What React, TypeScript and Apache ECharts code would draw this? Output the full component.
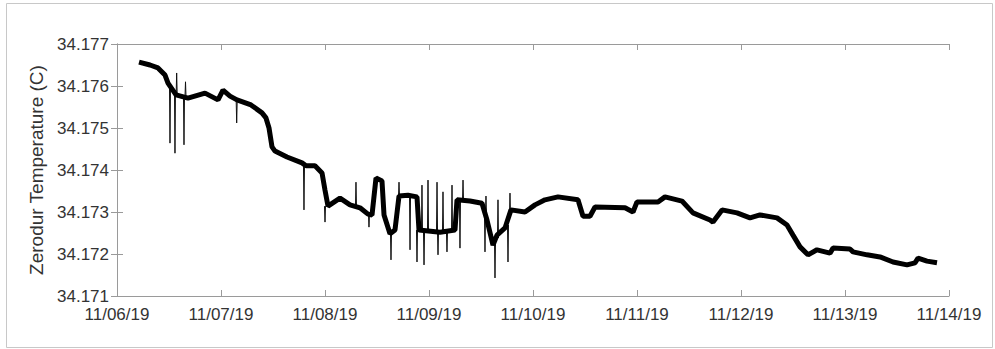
import React, { useEffect, useRef } from "react";
import * as echarts from "echarts";

// x in hours since 11/06/19 00:00
const xTickLabels = ["11/06/19", "11/07/19", "11/08/19", "11/09/19", "11/10/19", "11/11/19", "11/12/19", "11/13/19", "11/14/19"];
const yAxisTitle = "Zerodur Temperature (C)";

const trendHours = [
  5.08, 7.62, 9.46, 11.08, 11.77, 13.62, 16.38, 20.31, 23.31, 24.46, 26.08, 27.69, 30.92, 33.46, 34.38, 35.08,
  35.77, 36.46, 39.23, 42.69, 43.62, 45.69, 47.31, 48.0, 48.69, 51.46, 53.77, 56.08, 57.92, 58.85, 59.77, 61.15,
  61.62, 63.0, 64.15, 65.08, 67.15, 69.23, 69.69, 74.54, 78.0, 78.46, 81.46, 84.23, 85.38, 86.77, 87.69, 89.54,
  90.92, 94.15, 96.46, 98.77, 101.77, 106.38, 107.54, 109.15, 110.31, 117.23, 119.08, 120.0, 124.85, 126.46,
  130.38, 132.92, 136.85, 137.54, 139.62, 143.08, 146.08, 148.38, 152.31, 154.62, 156.0, 157.62, 159.46, 161.54,
  164.54, 165.23, 169.15, 169.85, 173.08, 176.08, 179.08, 182.31, 184.15, 184.85, 186.92, 189.23,
];
const trendValues = [
  34.17657, 34.1765, 34.17643, 34.17626, 34.17607, 34.17579, 34.17571, 34.17583, 34.17567, 34.1759, 34.17576,
  34.17567, 34.17555, 34.17536, 34.17524, 34.175, 34.17455, 34.17445, 34.17431, 34.17417, 34.1741, 34.1741,
  34.17393, 34.17352, 34.17314, 34.17333, 34.17317, 34.1731, 34.17295, 34.17293, 34.17381, 34.17374, 34.17293,
  34.17248, 34.17257, 34.17338, 34.1734, 34.17336, 34.17257, 34.17252, 34.17257, 34.17329, 34.17326, 34.17321,
  34.17281, 34.17221, 34.17245, 34.17262, 34.17305, 34.173, 34.17317, 34.17329, 34.17336, 34.17329, 34.1729,
  34.1729, 34.17312, 34.1731, 34.173, 34.17324, 34.17324, 34.17336, 34.17326, 34.17298, 34.17281, 34.17276,
  34.17305, 34.17298, 34.17286, 34.17293, 34.17286, 34.17269, 34.17245, 34.17217, 34.17198, 34.1721, 34.17202,
  34.17214, 34.17212, 34.17205, 34.17198, 34.17193, 34.17181, 34.17174, 34.17179, 34.1719, 34.17183, 34.17179,
];

const spikeHours = [
  12.23, 13.38, 13.77, 15.46, 15.81, 27.62, 43.15, 48.0, 55.15, 58.15, 63.23, 65.08, 67.62, 69.23, 70.38, 70.85,
  71.77, 73.85, 74.08, 75.23, 76.15, 77.31, 79.15, 79.85, 84.92, 85.15, 87.23, 87.92, 90.23, 90.69,
];
const spikeBase = [
  34.17602, 34.1759, 34.17579, 34.17574, 34.17574, 34.17567, 34.17412, 34.17314, 34.17314, 34.17295, 34.17248,
  34.17338, 34.17338, 34.17257, 34.17255, 34.17252, 34.17252, 34.17252, 34.17252, 34.17252, 34.17252, 34.17255,
  34.17326, 34.17326, 34.17293, 34.17293, 34.17233, 34.17238, 34.17269, 34.17293,
];
const spikePeak = [
  34.17464, 34.1744, 34.17631, 34.1746, 34.1761, 34.17512, 34.17305, 34.17276, 34.17371, 34.17264, 34.17186,
  34.17371, 34.1721, 34.17181, 34.17364, 34.17174, 34.17376, 34.17371, 34.17198, 34.17348, 34.17205, 34.17364,
  34.17214, 34.17376, 34.17205, 34.17338, 34.17143, 34.17329, 34.17181, 34.17345,
];

export default function App() {
  const ref = useRef<HTMLDivElement>(null);
  useEffect(() => {
    if (!ref.current) return;
    const chart = echarts.init(ref.current, null, { renderer: "svg" });
    const trend = trendHours.map((h, i) => [h, trendValues[i]]);
    const spikes: any[] = [];
    spikeHours.forEach((h, i) => {
      spikes.push([h - 0.12, spikeBase[i]]);
      spikes.push([h, spikePeak[i]]);
      spikes.push([h + 0.12, spikeBase[i]]);
      spikes.push([h + 0.13, "-"]);
    });
    const axisColor = "#9a9a9a";
    const labelColor = "#333";
    const font = "Liberation Sans, Arial, Helvetica, sans-serif";
    const xBase = {
      type: "value",
      min: 0,
      max: 192,
      interval: 24,
      splitLine: { show: false },
      axisLine: { show: true, lineStyle: { color: axisColor, width: 1 } },
      axisTick: { show: true, inside: true, length: 6, lineStyle: { color: axisColor } },
    };
    const yBase = {
      type: "value",
      min: 34.171,
      max: 34.177,
      interval: 0.001,
      scale: true,
      splitLine: { show: false },
      axisLine: { show: true, lineStyle: { color: axisColor, width: 1 } },
      axisTick: { show: true, inside: true, length: 6, lineStyle: { color: axisColor } },
    };
    chart.setOption({
      animation: false,
      backgroundColor: "#fff",
      grid: { left: 117, right: 46, top: 44, bottom: 53, containLabel: false },
      graphic: [
        {
          type: "rect",
          shape: { x: 6.5, y: 3.5, width: 986, height: 344 },
          style: { fill: "none", stroke: "#c8c8c8", lineWidth: 1 },
          silent: true,
        },
      ],
      xAxis: [
        {
          ...xBase,
          position: "bottom",
          axisLabel: {
            show: true,
            color: labelColor,
            fontSize: 17,
            fontFamily: font,
            margin: 10,
            formatter: (v: number) => xTickLabels[Math.round(v / 24)] ?? "",
          },
        },
        { ...xBase, position: "top", axisLabel: { show: false } },
      ],
      yAxis: [
        {
          ...yBase,
          position: "left",
          name: yAxisTitle,
          nameLocation: "middle",
          nameRotate: 90,
          nameGap: 61,
          nameTextStyle: { color: labelColor, fontSize: 19, fontFamily: font },
          axisLabel: {
            show: true,
            color: labelColor,
            fontSize: 17,
            fontFamily: font,
            margin: 8,
            formatter: (v: number) => v.toFixed(3),
          },
        },
        { ...yBase, position: "right", axisLabel: { show: false } },
      ],
      series: [
        {
          type: "line",
          data: trend,
          showSymbol: false,
          symbol: "none",
          lineStyle: { color: "#000", width: 5, join: "bevel" },
          itemStyle: { color: "#000" },
          z: 3,
        },
        {
          type: "line",
          data: spikes,
          showSymbol: false,
          symbol: "none",
          connectNulls: false,
          lineStyle: { color: "#111", width: 1 },
          itemStyle: { color: "#111" },
          z: 2,
        },
      ],
    });
    return () => chart.dispose();
  }, []);
  return (
    <div style={{ position: "absolute", left: 0, top: 0, width: 995, height: 349, background: "#fff" }}>
      <div ref={ref} style={{ width: 995, height: 349 }} />
    </div>
  );
}
